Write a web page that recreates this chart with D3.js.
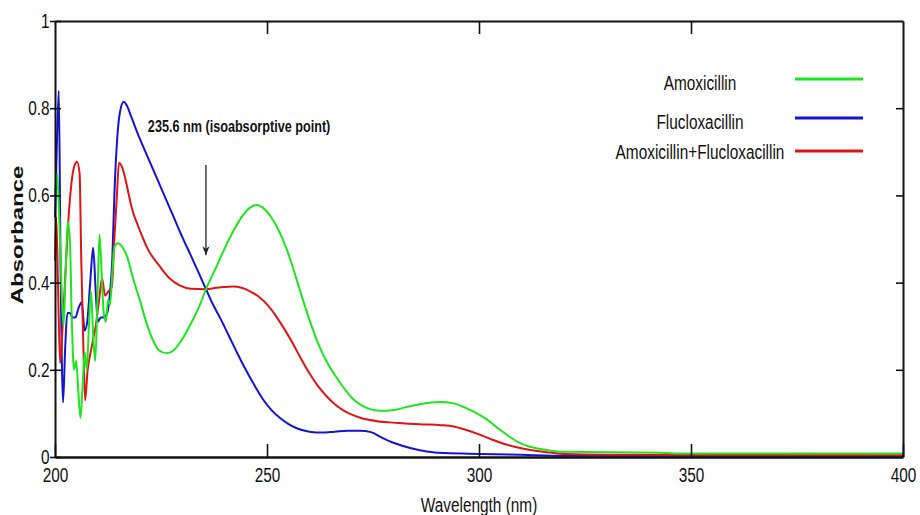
<!DOCTYPE html>
<html>
<head>
<meta charset="utf-8">
<script src="https://cdn.jsdelivr.net/npm/d3@7"></script>
<style>
  body { margin: 0; background: #fff; }
  svg text { font-family: "Liberation Sans", Arial, sans-serif; fill: #111; }
</style>
</head>
<body>
<svg id="chart" width="920" height="515"></svg>
<script>
// spectra: [wavelength nm, absorbance]
const amoxicillin = [
  [200.0,0.60],[200.5,0.65],[201.0,0.55],[201.5,0.40],[202.0,0.30],[202.5,0.42],[203.0,0.54],
  [203.5,0.50],[204.0,0.30],[204.5,0.20],[205.0,0.22],[205.5,0.15],[206.0,0.09],[206.5,0.16],
  [207.0,0.24],[207.5,0.20],[208.0,0.30],[208.5,0.38],[209.0,0.28],[209.5,0.22],[210.0,0.36],
  [210.5,0.51],[211.0,0.42],[211.5,0.33],[212.0,0.31],[212.5,0.36],[213.0,0.35],[213.5,0.42],
  [214.0,0.48],[214.8,0.49],[216,0.48],[217,0.46],[218.4,0.41],[220,0.36],[221.5,0.31],
  [223,0.27],[224.5,0.245],[226.4,0.238],[228,0.245],[230,0.27],[232,0.305],[234,0.345],
  [235.6,0.385],[238,0.435],[240,0.478],[242,0.517],[244,0.55],[246,0.572],[247.6,0.578],
  [249,0.572],[251,0.55],[253,0.515],[254.7,0.475],[256,0.438],[258,0.375],[260,0.315],
  [262,0.262],[264,0.22],[266,0.188],[268,0.16],[270,0.136],[272,0.12],[274,0.111],
  [276.7,0.106],[280,0.108],[283,0.115],[286,0.121],[290.8,0.126],[294,0.123],[297,0.112],
  [299.5,0.10],[302,0.085],[305,0.062],[309.7,0.032],[313,0.021],[316,0.016],[320,0.012],
  [343,0.010],[346,0.008],[400,0.008]
];
const flucloxacillin = [
  [200.0,0.55],[200.4,0.70],[200.9,0.84],[201.3,0.45],[201.9,0.125],[202.4,0.25],[202.9,0.33],
  [203.5,0.33],[204.2,0.32],[204.8,0.32],[205.5,0.34],[206.3,0.355],[207.0,0.29],[207.6,0.31],
  [208.3,0.40],[209.0,0.48],[209.6,0.38],[210.1,0.31],[210.8,0.32],[211.6,0.32],[212.3,0.33],
  [213.0,0.38],[213.5,0.45],[214.0,0.60],[214.6,0.72],[215.3,0.79],[216.2,0.815],[217,0.805],
  [218,0.78],[220,0.73],[222,0.685],[224,0.64],[226,0.595],[228,0.55],[230,0.505],[232,0.463],
  [234,0.42],[235.6,0.385],[237,0.355],[239,0.318],[241,0.278],[243,0.238],[245,0.20],
  [247,0.165],[249,0.133],[251,0.108],[253,0.09],[255,0.076],[257,0.066],[260,0.058],
  [263,0.056],[266,0.058],[269,0.060],[272,0.060],[274.5,0.057],[277,0.045],[280,0.032],
  [284,0.020],[288,0.012],[292,0.009],[300,0.007],[310,0.005],[320,0.003],[400,0.003]
];
const mixture = [
  [200.0,0.45],[200.3,0.55],[200.7,0.40],[201.2,0.215],[201.8,0.30],[202.5,0.43],[203.2,0.55],
  [203.9,0.63],[204.5,0.665],[205.2,0.677],[205.8,0.65],[206.2,0.45],[206.7,0.25],[207.1,0.13],
  [207.7,0.20],[208.4,0.24],[209.0,0.27],[209.6,0.30],[210.4,0.36],[211.1,0.41],[211.8,0.37],
  [212.6,0.38],[213.4,0.39],[214.0,0.50],[214.6,0.60],[215.1,0.675],[216,0.66],[217,0.62],
  [218,0.575],[220,0.52],[222,0.475],[224.8,0.436],[227,0.41],[229.5,0.393],[232,0.386],
  [235.6,0.385],[238,0.388],[240,0.39],[242,0.391],[244,0.388],[246,0.38],[248,0.368],
  [250,0.35],[252,0.325],[254,0.295],[256,0.262],[258,0.226],[260,0.192],[262,0.163],
  [264,0.14],[266,0.121],[268,0.107],[270,0.097],[272,0.09],[276,0.082],[281,0.078],
  [286,0.075],[291,0.073],[294,0.070],[297,0.062],[300,0.052],[303,0.040],[306,0.030],
  [310,0.020],[316,0.011],[320,0.007],[330,0.005],[400,0.004]
];

const seriesNames = ["Amoxicillin", "Flucloxacillin", "Amoxicillin+Flucloxacillin"];
const seriesColors = ["#1ee61e", "#1414d2", "#e01414"];
const xTicks = [200, 250, 300, 350, 400];
const yTicks = [0, 0.2, 0.4, 0.6, 0.8, 1];
const isoPoint = { nm: 235.6, label: "235.6 nm (isoabsorptive point)" };

const margin = { top: 21, right: 17, bottom: 58, left: 55 };
const width = 920 - margin.left - margin.right;
const height = 515 - margin.top - margin.bottom;
const squeeze = "scale(0.77,1)";

const svg = d3.select("#chart")
  .append("g")
  .attr("transform", "translate(" + margin.left + "," + margin.top + ")");

const x = d3.scaleLinear().domain([200, 400]).range([0, width]);
const y = d3.scaleLinear().domain([0, 1]).range([height, 0]);

// curves
const line = d3.line()
  .x(d => x(d[0]))
  .y(d => y(d[1]))
  .curve(d3.curveMonotoneX);

const allSeries = [amoxicillin, flucloxacillin, mixture];
[1, 2, 0].forEach(i => {
  svg.append("path")
     .datum(allSeries[i])
     .attr("fill", "none")
     .attr("stroke", seriesColors[i])
     .attr("stroke-width", 2)
     .attr("stroke-linejoin", "round")
     .attr("d", line);
});

// axes, MATLAB style box with ticks on every side
const xAxis = svg.append("g")
  .attr("transform", "translate(0," + height + ")")
  .call(d3.axisBottom(x).tickValues(xTicks).tickSize(-13).tickPadding(11).tickSizeOuter(0));
const xTop = svg.append("g")
  .call(d3.axisTop(x).tickValues(xTicks.slice(1, -1)).tickSize(-13).tickFormat("").tickSizeOuter(0));
const yAxis = svg.append("g")
  .call(d3.axisLeft(y).tickValues(yTicks).tickSize(5).tickPadding(2).tickFormat(d3.format("")).tickSizeOuter(0));
yAxis.selectAll(".tick line").attr("x1", 6);
const yRight = svg.append("g")
  .attr("transform", "translate(" + width + ",0)")
  .call(d3.axisRight(y).tickValues(yTicks.slice(1, -1)).tickSize(-7).tickFormat("").tickSizeOuter(0));

[xAxis, xTop, yAxis, yRight].forEach(g => {
  g.select(".domain").attr("stroke", "#111").attr("stroke-width", 2);
  g.selectAll(".tick line").attr("stroke", "#111").attr("stroke-width", 1.6);
  g.selectAll(".tick text")
   .attr("font-size", 20)
   .attr("font-family", "Liberation Sans, Arial, sans-serif")
   .attr("fill", "#111")
   .attr("transform", squeeze);
});
xAxis.select(".domain").attr("stroke-width", 2.5);

// axis titles
svg.append("text")
   .attr("transform", "translate(" + (width / 2) + "," + (height + 55) + ") " + squeeze)
   .attr("text-anchor", "middle")
   .attr("font-size", 20)
   .text("Wavelength (nm)");

svg.append("text")
   .attr("transform", "translate(" + (23 - margin.left) + "," + (height / 2 - 4) + ") scale(0.7,1) rotate(-90)")
   .attr("text-anchor", "middle")
   .attr("font-size", 24)
   .attr("font-weight", "bold")
   .text("Absorbance");

// isoabsorptive annotation
svg.append("defs").append("marker")
   .attr("id", "arrow")
   .attr("viewBox", "0 0 10 10")
   .attr("refX", 10).attr("refY", 5)
   .attr("markerWidth", 9).attr("markerHeight", 9)
   .attr("markerUnits", "userSpaceOnUse")
   .attr("orient", "auto")
   .append("path")
   .attr("d", "M0,1 L10,5 L0,9 L3,5 Z")
   .attr("fill", "#222");

svg.append("line")
   .attr("x1", x(isoPoint.nm)).attr("x2", x(isoPoint.nm))
   .attr("y1", y(0.67)).attr("y2", y(0.463))
   .attr("stroke", "#222").attr("stroke-width", 1.3)
   .attr("marker-end", "url(#arrow)");

svg.append("text")
   .attr("transform", "translate(" + (x(221.9)) + "," + y(0.745) + ") scale(0.79,1)")
   .attr("font-size", 16)
   .attr("font-weight", "bold")
   .attr("fill", "#222")
   .text(isoPoint.label);

// legend
const legendY = [62, 101, 131];
seriesNames.forEach((name, i) => {
  svg.append("text")
     .attr("transform", "translate(" + (700 - margin.left) + "," + (legendY[i] + 7) + ") " + squeeze)
     .attr("text-anchor", "middle")
     .attr("font-size", 20)
     .text(name);
  svg.append("line")
     .attr("x1", 795 - margin.left).attr("x2", 863 - margin.left)
     .attr("y1", legendY[i] - 4 + (i === 2 ? 3 : 0)).attr("y2", legendY[i] - 4 + (i === 2 ? 3 : 0))
     .attr("stroke", seriesColors[i])
     .attr("stroke-width", 3);
});
</script>
</body>
</html>
